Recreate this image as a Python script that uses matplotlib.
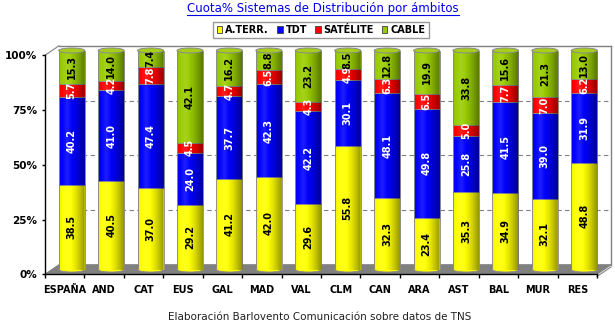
import matplotlib
matplotlib.use("Agg")
import matplotlib.pyplot as plt
import numpy as np
from matplotlib.patches import Ellipse, Polygon, Patch
from matplotlib.lines import Line2D

plt.rcParams["font.family"] = ["DejaVu Sans"]

# ---- data -------------------------------------------------------------
categories = ["ESPAÑA", "AND", "CAT", "EUS", "GAL", "MAD", "VAL",
              "CLM", "CAN", "ARA", "AST", "BAL", "MUR", "RES"]
series_names = ["A.TERR.", "TDT", "SATÉLITE", "CABLE"]
a_terr   = [38.5, 40.5, 37.0, 29.2, 41.2, 42.0, 29.6, 55.8, 32.3, 23.4, 35.3, 34.9, 32.1, 48.8]
tdt      = [40.2, 41.0, 47.4, 24.0, 37.7, 42.3, 42.2, 30.1, 48.1, 49.8, 25.8, 41.5, 39.0, 31.9]
satelite = [5.7, 4.2, 7.8, 4.5, 4.7, 6.5, 4.3, 4.9, 6.3, 6.5, 5.0, 7.7, 7.0, 6.2]
cable    = [15.3, 14.0, 7.4, 42.1, 16.2, 8.8, 23.2, 8.5, 12.8, 19.9, 33.8, 15.6, 21.3, 13.0]
y_ticks = [0, 25, 50, 75, 100]
title = "Cuota% Sistemas de Distribución por ámbitos"
caption = "Elaboración Barlovento Comunicación sobre datos de TNS"

series = [a_terr, tdt, satelite, cable]
colors = ["#FFFF00", "#0000FF", "#FF0000", "#99CC00"]
text_colors = ["black", "white", "white", "black"]

# ---- figure geometry (pixels) ----------------------------------------
W, H = 615, 329
fig = plt.figure(figsize=(W / 100, H / 100), dpi=100)
fig.patch.set_facecolor("white")


def box(x0, y0, x1, y1):
    return [x0 / W, 1 - y1 / H, (x1 - x0) / W, (y1 - y0) / H]


DX, DY = 7.0, 4.75          # half depth of the 3-D box, in pixels
MX0, MY0, MX1, MY1 = 52, 50.5, 604, 269.5

axb = fig.add_axes(box(MX0 + DX, MY0 - DY, MX1 + DX, MY1 - DY))   # back wall
ax = fig.add_axes(box(MX0, MY0, MX1, MY1))                       # bar plane
axf = fig.add_axes(box(MX0 - DX, MY0 + DY, MX1 - DX, MY1 + DY))   # front axes
axb.set_zorder(0)
ax.set_zorder(1)
axf.set_zorder(2)

n = len(categories)
xlim = (-0.5, n - 0.5)
ylim = (0, 100)
for a in (axb, ax, axf):
    a.set_xlim(*xlim)
    a.set_ylim(*ylim)

# back wall
axb.set_facecolor("white")
axb.set_xticks([])
axb.set_yticks([25, 50, 75])
axb.tick_params(length=0, labelleft=False)
axb.grid(axis="y", color="#808080", linestyle=(0, (4, 3)), linewidth=0.8)
for s in ("left", "bottom"):
    axb.spines[s].set_visible(False)
for s in ("top", "right"):
    axb.spines[s].set_color("#808080")
    axb.spines[s].set_linewidth(1)

# bar plane
ax.axis("off")
px_x = (MX1 - MX0) / n
px_y = (MY1 - MY0) / 100
dxd, dyd = DX / px_x, DY / px_y

floor = Polygon([(xlim[0] - dxd, -dyd), (xlim[1] - dxd, -dyd),
                 (xlim[1] + dxd, dyd), (xlim[0] + dxd, dyd)],
                closed=True, facecolor="#808080", edgecolor="#808080",
                linewidth=0.8, clip_on=False, zorder=0.5)
ax.add_patch(floor)
ax.add_line(Line2D([xlim[0] - dxd, xlim[0] + dxd], [100 - dyd, 100 + dyd],
                   color="#808080", linewidth=0.8, clip_on=False, zorder=0.5))
ax.add_line(Line2D([xlim[1] - dxd, xlim[1] + dxd], [-dyd - 1.0, dyd - 1.0],
                   color="#808080", linewidth=0.8, clip_on=False, zorder=0.5))

bw = 0.66
cap_h = 5.0 / px_y
x = np.arange(n)
totals = np.sum(np.array(series), axis=0)

# horizontal cylinder shading profile
t = np.linspace(0, 1, 64)
shade = np.zeros((1, 64, 4))
dark = np.clip((t - 0.4) / 0.6, 0, 1) ** 1.4 * 0.45
light = np.clip(1 - np.abs(t - 0.3) / 0.2, 0, 1) * 0.12
edge = np.clip((0.1 - t) / 0.1, 0, 1) * 0.08
alpha = dark + edge
shade[0, :, 3] = np.maximum(alpha, light)
white = light > alpha
shade[0, white, :3] = 1.0

bottoms = np.zeros(n)
for k, vals in enumerate(series):
    vals = np.array(vals)
    h = vals / totals * 100
    ax.bar(x, h, bw, bottom=bottoms, color=colors[k], edgecolor="#8a8a8a",
           linewidth=0.6, zorder=2)
    for i in range(n):
        ax.text(x[i], bottoms[i] + h[i] / 2, f"{vals[i]:.1f}", rotation=90,
                ha="center", va="center", fontsize=7, fontweight="bold",
                color=text_colors[k], zorder=6)
    bottoms = bottoms + h

for i in range(n):
    # rounded bottom of each cylinder
    ax.add_patch(Ellipse((x[i], 0), bw, cap_h, facecolor=colors[0],
                         edgecolor="#8a8a8a", linewidth=0.6, zorder=1.9,
                         clip_on=False))
    tt = np.linspace(np.pi, 2 * np.pi, 30)
    outline = [(x[i] - bw / 2, 100)] + \
        [(x[i] + bw / 2 * np.cos(a), cap_h / 2 * np.sin(a)) for a in tt] + \
        [(x[i] + bw / 2, 100)]
    clip = Polygon(outline, closed=True, transform=ax.transData)
    im = ax.imshow(shade, extent=[x[i] - bw / 2, x[i] + bw / 2, -cap_h / 2, 100],
                   aspect="auto", interpolation="bilinear", zorder=3)
    im.set_clip_path(clip)
    # top cap
    ax.add_patch(Ellipse((x[i], 100), bw, cap_h, facecolor="#A6CE1A",
                         edgecolor="#8a8a8a", linewidth=0.7, zorder=4,
                         clip_on=False))
ax.set_xlim(*xlim)
ax.set_ylim(*ylim)

# front axes with ticks and labels
axf.patch.set_visible(False)
for s in ("top", "right"):
    axf.spines[s].set_visible(False)
for s in ("left", "bottom"):
    axf.spines[s].set_color("black")
    axf.spines[s].set_linewidth(1)
axf.set_yticks(y_ticks)
axf.set_yticklabels([f"{v}%" for v in y_ticks], fontsize=7.5, fontweight="bold")
axf.tick_params(axis="y", length=2.5, width=1, pad=3)
axf.set_xticks(np.arange(-0.5, n, 1))
axf.set_xticklabels([])
axf.tick_params(axis="x", which="major", length=3, width=1)
axf.set_xticks(x, minor=True)
axf.set_xticklabels(categories, minor=True, fontsize=7, fontweight="bold")
axf.tick_params(axis="x", which="minor", length=0, pad=8)

# legend
handles = [Patch(facecolor=c, edgecolor="#404040", linewidth=0.6) for c in colors]
leg = fig.legend(handles, series_names, loc="center", ncol=4,
                 bbox_to_anchor=(321 / W, 1 - 30 / H), frameon=True,
                 fancybox=False, edgecolor="#808080",
                 prop={"weight": "bold", "size": 7},
                 handlelength=0.6, handleheight=0.6, handletextpad=0.3,
                 columnspacing=0.8, borderpad=0.35, borderaxespad=0)
leg.get_frame().set_linewidth(1)

# title with underline and caption
ttl = fig.text(323 / W, 1 - 8.5 / H, title, ha="center", va="center",
               fontsize=8.5, color="#0000EE")
fig.text(320 / W, 1 - 317 / H, caption, ha="center", va="center",
         fontsize=7.5, color="#202020")
fig.canvas.draw()
bb = ttl.get_window_extent()
uy = 1 - 14.5 / H
fig.add_artist(Line2D([bb.x0 / W, bb.x1 / W], [uy, uy], color="#0000EE",
                      linewidth=0.8, transform=fig.transFigure))

fig.savefig("out.png", dpi=100, facecolor="white")
